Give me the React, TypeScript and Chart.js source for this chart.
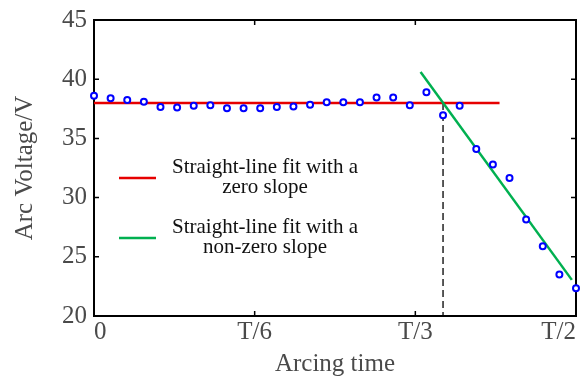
import React, { useEffect, useRef } from "react";
import { Chart, registerables } from "chart.js";

Chart.register(...registerables);

// ---- data ----
const voltage = [
  38.6, 38.4, 38.25, 38.1, 37.65, 37.6, 37.75, 37.8, 37.55, 37.55,
  37.55, 37.65, 37.7, 37.85, 38.05, 38.05, 38.05, 38.45, 38.45, 37.8,
  38.9, 36.95, 37.75, 34.1, 32.8, 31.65, 28.15, 25.9, 23.5, 22.35,
];
const sampleIndex = voltage.map((_, i) => i);
const xTickValues = [0, 29 / 3, 58 / 3, 29];
const xTickLabels = ["0", "T/6", "T/3", "T/2"];
const yTickValues = [20, 25, 30, 35, 40, 45];
const zeroSlopeFitX = [0, 24.4];
const zeroSlopeFitY = [38, 38];
const slopeFitX = [19.65, 28.75];
const slopeFitY = [40.6, 23.05];
const onsetX = [21, 21];
const onsetY = [38, 20];
const legendLabels = [
  ["Straight-line fit with a", "zero slope"],
  ["Straight-line fit with a", "non-zero slope"],
];
const xTitle = "Arcing time";
const yTitle = "Arc Voltage/V";

const SERIF = "'Liberation Serif', 'Times New Roman', serif";

const framePlugin = {
  id: "frame",
  beforeDatasetsDraw(chart: any) {
    const { ctx, chartArea: a, scales } = chart;
    ctx.save();
    ctx.strokeStyle = "#000";
    ctx.lineWidth = 2;
    ctx.strokeRect(a.left, a.top, a.right - a.left, a.bottom - a.top);
    ctx.lineWidth = 1.5;
    const L = 5;
    ctx.beginPath();
    xTickValues.forEach((v) => {
      const px = scales.x.getPixelForValue(v);
      if (px <= a.left + 1 || px >= a.right - 1) return;
      ctx.moveTo(px, a.bottom);
      ctx.lineTo(px, a.bottom - L);
      ctx.moveTo(px, a.top);
      ctx.lineTo(px, a.top + L);
    });
    yTickValues.forEach((v) => {
      const py = scales.y.getPixelForValue(v);
      if (py <= a.top + 1 || py >= a.bottom - 1) return;
      ctx.moveTo(a.left, py);
      ctx.lineTo(a.left + L, py);
      ctx.moveTo(a.right, py);
      ctx.lineTo(a.right - L, py);
    });
    ctx.stroke();
    ctx.restore();
  },
};

const legendPlugin = {
  id: "customLegend",
  afterDraw(chart: any) {
    const { ctx } = chart;
    const items = [
      { color: chart.data.datasets[1].borderColor, lines: legendLabels[0], y: 178 },
      { color: chart.data.datasets[2].borderColor, lines: legendLabels[1], y: 238 },
    ];
    ctx.save();
    items.forEach((it) => {
      ctx.strokeStyle = it.color;
      ctx.lineWidth = 2.5;
      ctx.beginPath();
      ctx.moveTo(119, it.y);
      ctx.lineTo(156, it.y);
      ctx.stroke();
      ctx.fillStyle = "#111";
      ctx.font = `21px ${SERIF}`;
      ctx.textAlign = "center";
      ctx.textBaseline = "alphabetic";
      ctx.fillText(it.lines[0], 265, it.y - 5);
      ctx.fillText(it.lines[1], 265, it.y + 14.5);
    });
    ctx.restore();
  },
};

export default function App() {
  const ref = useRef<HTMLCanvasElement | null>(null);
  useEffect(() => {
    document.body.style.margin = "0";
    const canvas = ref.current;
    if (!canvas) return;
    const chart = new Chart(canvas, {
      type: "scatter",
      data: {
        datasets: [
          {
            label: "Arc voltage",
            data: sampleIndex.map((x, i) => ({ x, y: voltage[i] })),
            showLine: false,
            pointStyle: "circle",
            pointRadius: 3,
            pointBorderWidth: 2,
            borderColor: "#0000ff",
            backgroundColor: "#ffffff",
            clip: false,
            order: 0,
          } as any,
          {
            label: legendLabels[0].join(" "),
            data: zeroSlopeFitX.map((x, i) => ({ x, y: zeroSlopeFitY[i] })),
            showLine: true,
            pointRadius: 0,
            borderColor: "rgb(230,0,0)",
            borderWidth: 2.5,
            order: 2,
          },
          {
            label: legendLabels[1].join(" "),
            data: slopeFitX.map((x, i) => ({ x, y: slopeFitY[i] })),
            showLine: true,
            pointRadius: 0,
            borderColor: "rgb(0,176,80)",
            borderWidth: 2.5,
            order: 1,
          },
          {
            label: "onset",
            data: onsetX.map((x, i) => ({ x, y: onsetY[i] })),
            showLine: true,
            pointRadius: 0,
            borderColor: "#000",
            borderWidth: 1.3,
            borderDash: [7, 4],
            order: 3,
          },
        ],
      },
      options: {
        animation: false,
        responsive: false,
        devicePixelRatio: 1,
        layout: { padding: { top: 20, right: 6, left: 0, bottom: 0 } },
        plugins: {
          legend: { display: false },
          tooltip: { enabled: false },
        },
        scales: {
          x: {
            type: "linear",
            min: 0,
            max: 29,
            grid: { display: false, drawTicks: false },
            border: { display: false },
            afterBuildTicks: (s: any) => {
              s.ticks = xTickValues.map((v) => ({ value: v }));
            },
            afterFit: (s: any) => {
              s.height = 60;
              s.paddingLeft = 0;
              s.paddingRight = 0;
            },
            ticks: {
              autoSkip: false,
              maxRotation: 0,
              align: "inner",
              padding: 1,
              color: "#4a4a4a",
              font: { family: SERIF, size: 25 },
              callback: (_v: any, i: number) => xTickLabels[i],
            },
            title: {
              display: true,
              text: xTitle,
              color: "#4a4a4a",
              font: { family: SERIF, size: 25, lineHeight: 0.9 },
              padding: { top: 0, bottom: 0 },
            },
          },
          y: {
            type: "linear",
            min: 20,
            max: 45,
            grid: { display: false, drawTicks: false },
            border: { display: false },
            afterBuildTicks: (s: any) => {
              s.ticks = yTickValues.map((v) => ({ value: v }));
            },
            afterFit: (s: any) => {
              s.width = 94;
              s.paddingTop = 0;
              s.paddingBottom = 0;
            },
            ticks: {
              padding: 7,
              color: "#4a4a4a",
              font: { family: SERIF, size: 25 },
            },
            title: {
              display: true,
              text: yTitle,
              color: "#4a4a4a",
              font: { family: SERIF, size: 25, lineHeight: 1.2 },
              padding: { top: 10, bottom: 0 },
            },
          },
        },
      } as any,
      plugins: [framePlugin, legendPlugin],
    });
    return () => chart.destroy();
  }, []);
  return (
    <div style={{ position: "absolute", left: 0, top: 0, width: 582, height: 376 }}>
      <canvas ref={ref} width={582} height={376} style={{ width: 582, height: 376 }} />
    </div>
  );
}
